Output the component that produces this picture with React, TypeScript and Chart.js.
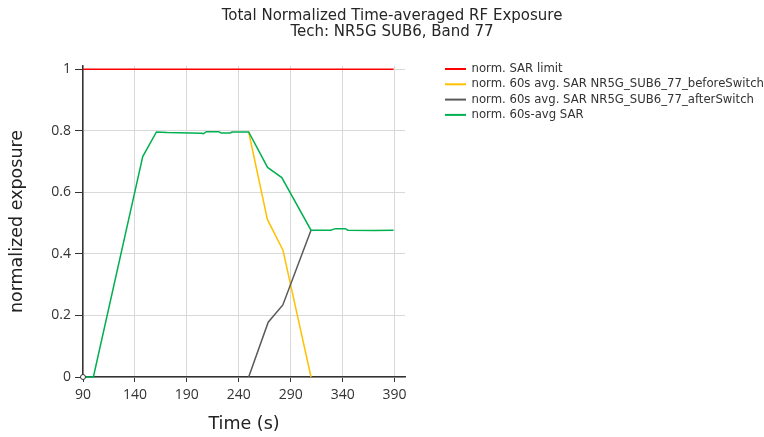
import React, { useEffect, useRef } from "react";
import { Chart, registerables } from "chart.js";

Chart.register(...registerables);

const titleLines = ["Total Normalized Time-averaged RF Exposure", "Tech: NR5G SUB6, Band 77"];
const xTitle = "Time (s)";
const yTitle = "normalized exposure";

const seriesLabels = [
  "norm. SAR limit",
  "norm. 60s avg. SAR NR5G_SUB6_77_beforeSwitch",
  "norm. 60s avg. SAR NR5G_SUB6_77_afterSwitch",
  "norm. 60s-avg SAR",
];
const seriesColors = ["#ff0000", "#ffc000", "#595959", "#00b050"];

const xTicks = [90, 140, 190, 240, 290, 340, 390];
const yTicks = [0, 0.2, 0.4, 0.6, 0.8, 1];

const limitTime = [90, 389];
const limitValue = [1, 1];

const beforeTime = [249.5, 267.5, 282.5, 309.5];
const beforeValue = [0.796, 0.512, 0.412, 0];

const afterTime = [249.5, 268.3, 282.4, 309.5];
const afterValue = [0, 0.178, 0.234, 0.477];

const totalTime = [90, 100, 147.5, 160.7, 171, 204.6, 205.6, 208.8, 220.6, 222.9, 231.8, 233.5, 249.5, 267.7, 281.4, 309.5, 328.5, 333, 342.5, 345, 370, 389];
const totalValue = [0, 0, 0.716, 0.796, 0.794, 0.792, 0.79, 0.797, 0.797, 0.793, 0.793, 0.796, 0.796, 0.681, 0.648, 0.477, 0.477, 0.482, 0.482, 0.477, 0.476, 0.477];

const toPoints = (xs: number[], ys: number[]) => xs.map((x, i) => ({ x, y: ys[i] }));

const titleLegendPlugin = {
  id: "titleLegend",
  afterDraw(chart: any) {
    const ctx = chart.ctx;
    ctx.save();
    ctx.fillStyle = "#262626";
    ctx.font = "15px 'DejaVu Sans'";
    ctx.textAlign = "center";
    ctx.textBaseline = "middle";
    ctx.fillText(titleLines[0], 392, 16);
    ctx.fillText(titleLines[1], 392, 32.5);

    ctx.textAlign = "left";
    ctx.font = "11.7px 'DejaVu Sans'";
    chart.data.datasets.forEach((ds: any, i: number) => {
      const y = 69 + i * 15.3;
      ctx.strokeStyle = ds.borderColor;
      ctx.lineWidth = 2;
      ctx.beginPath();
      ctx.moveTo(445, y);
      ctx.lineTo(466, y);
      ctx.stroke();
      ctx.fillStyle = "#333";
      ctx.fillText(ds.label, 471.5, y);
    });
    ctx.restore();
  },
};

export default function App() {
  const ref = useRef<HTMLCanvasElement>(null);
  useEffect(() => {
    if (!ref.current) return;
    const tickFont = { family: "'Open Sans'", size: 14 };
    const chart = new Chart(ref.current, {
      type: "line",
      data: {
        datasets: [
          {
            label: seriesLabels[0],
            data: toPoints(limitTime, limitValue),
            borderColor: seriesColors[0],
            backgroundColor: seriesColors[0],
            borderWidth: 1.6,
            pointRadius: 0,
            order: 3,
          },
          {
            label: seriesLabels[1],
            data: toPoints(beforeTime, beforeValue),
            borderColor: seriesColors[1],
            backgroundColor: seriesColors[1],
            borderWidth: 1.5,
            pointRadius: 0,
            order: 2,
          },
          {
            label: seriesLabels[2],
            data: toPoints(afterTime, afterValue),
            borderColor: seriesColors[2],
            backgroundColor: seriesColors[2],
            borderWidth: 1.5,
            pointRadius: 0,
            order: 1,
          },
          {
            label: seriesLabels[3],
            data: toPoints(totalTime, totalValue),
            borderColor: seriesColors[3],
            backgroundColor: "#ffffff",
            borderWidth: 1.5,
            pointRadius: (c: any) => (c.dataIndex === 0 ? 2.5 : 0),
            pointBorderColor: "#333",
            pointBorderWidth: 1,
            pointBackgroundColor: "#ffffff",
            clip: 5,
            order: 0,
          },
        ],
      },
      options: {
        animation: false,
        responsive: true,
        maintainAspectRatio: false,
        layout: { padding: { top: 66, right: 359, bottom: 0, left: 0 } },
        plugins: {
          legend: { display: false },
          title: { display: false },
          tooltip: { enabled: false },
        },
        scales: {
          x: {
            type: "linear",
            min: 90,
            max: 400,
            afterBuildTicks: (s: any) => {
              s.ticks = xTicks.map((v) => ({ value: v }));
            },
            afterFit: (s: any) => {
              s.height = 60;
            },
            grid: { color: "#d9d9d9", lineWidth: 1, tickColor: "#333", tickLength: 5, drawTicks: true },
            border: { color: "#333", width: 1.5 },
            ticks: {
              font: tickFont,
              color: "#333",
              padding: 5,
              maxRotation: 0,
              autoSkip: false,
              callback: (v: any) => String(v),
            },
            title: {
              display: true,
              text: xTitle,
              color: "#222",
              font: { family: "'DejaVu Sans'", size: 17.5 },
              padding: { top: 0, bottom: 2.5 },
            },
          },
          y: {
            type: "linear",
            min: 0,
            max: 1.0104,
            afterBuildTicks: (s: any) => {
              s.ticks = yTicks.map((v) => ({ value: v }));
            },
            afterFit: (s: any) => {
              s.width = 83;
            },
            grid: { color: "#d9d9d9", lineWidth: 1, tickColor: "#333", tickLength: 8, drawTicks: true },
            border: { color: "#333", width: 1.5 },
            ticks: {
              font: tickFont,
              color: "#333",
              padding: 4,
              autoSkip: false,
              callback: (v: any) => String(Math.round(v * 10) / 10),
            },
            title: {
              display: true,
              text: yTitle,
              color: "#222",
              font: { family: "'DejaVu Sans'", size: 17.5 },
              padding: { top: 6.5, bottom: 0 },
            },
          },
        },
      },
      plugins: [titleLegendPlugin],
    } as any);
    return () => chart.destroy();
  }, []);
  return (
    <div style={{ position: "fixed", left: 0, top: 0, width: 764, height: 437, background: "#fff" }}>
      <canvas ref={ref} />
    </div>
  );
}
